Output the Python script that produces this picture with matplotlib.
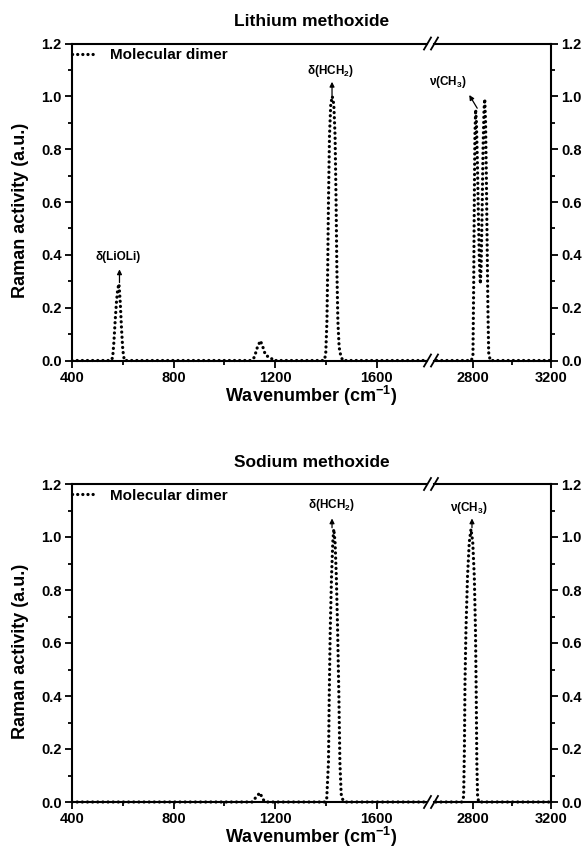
import matplotlib
matplotlib.use("Agg")
import matplotlib.pyplot as plt
from matplotlib.patches import Rectangle
from matplotlib.lines import Line2D
from matplotlib.ticker import FixedLocator, FormatStrFormatter

# ---------------- data ----------------
li_wavenumber = [400, 552, 560, 565, 570, 575, 580, 585, 590, 595, 600, 606,
                 1105, 1118, 1130, 1142, 1152, 1162, 1172, 1182, 1192,
                 1392, 1399, 1404, 1407, 1410, 1414, 1419, 1425, 1431, 1436,
                 1440, 1443, 1447, 1452, 1458, 1466,
                 2790, 2798, 2802, 2805, 2808, 2812, 2816, 2821, 2826, 2831,
                 2836, 2840, 2845, 2850, 2855, 2859, 2863, 2867, 2871, 2875,
                 2879, 2887, 3200]
li_activity = [0, 0, 0.01, 0.07, 0.15, 0.22, 0.27, 0.29, 0.22, 0.12, 0.04, 0,
               0, 0.012, 0.05, 0.075, 0.05, 0.02, 0.015, 0.012, 0,
               0, 0.02, 0.15, 0.35, 0.6, 0.85, 0.97, 1.0, 0.97, 0.85,
               0.6, 0.35, 0.15, 0.05, 0.02, 0,
               0, 0.02, 0.3, 0.6, 0.85, 0.95, 0.9, 0.75, 0.55, 0.38,
               0.29, 0.35, 0.55, 0.8, 0.95, 0.99, 0.9, 0.7, 0.45, 0.2,
               0.03, 0, 0]

na_wavenumber = [400, 1110, 1122, 1140, 1152, 1162,
                 1395, 1403, 1410, 1413, 1417, 1422, 1427, 1431, 1436, 1441,
                 1446, 1451, 1455, 1460, 1466, 1475,
                 2740, 2750, 2754, 2757, 2762, 2770, 2779, 2788, 2797, 2805,
                 2811, 2815, 2818, 2822, 2828, 3200]
na_activity = [0, 0, 0.015, 0.035, 0.01, 0,
               0, 0.01, 0.15, 0.4, 0.65, 0.85, 0.98, 1.03, 0.98, 0.85,
               0.65, 0.4, 0.15, 0.03, 0.01, 0,
               0, 0.02, 0.2, 0.45, 0.65, 0.85, 0.98, 1.03, 0.98, 0.85,
               0.65, 0.4, 0.15, 0.02, 0, 0]

titles = ["Lithium methoxide", "Sodium methoxide"]
legend_label = "Molecular dimer"
x_label = "Wavenumber (cm$^{-1}$)"
y_label = "Raman activity (a.u.)"

left_range = (400, 1800)
right_range = (2600, 3200)
left_major = [400, 800, 1200, 1600]
left_minor = [600, 1000, 1400]
right_major = [2800, 3200]
right_minor = [3000]
y_major = [0.0, 0.2, 0.4, 0.6, 0.8, 1.0, 1.2]
y_minor = [0.1, 0.3, 0.5, 0.7, 0.9, 1.1]

# annotations: (text, text_x, text_y, tail_x, tail_y, head_x, head_y, segment)
li_notes = [
    ("δ(LiOLi)", 580, 0.39, 587, 0.295, 587, 0.345, "L"),
    ("δ(HCH$_2$)", 1419, 1.095, 1424, 1.0, 1424, 1.055, "L"),
    ("ν(CH$_3$)", 2667, 1.055, 2820, 0.955, 2779, 1.005, "R"),
]
na_notes = [
    ("δ(HCH$_2$)", 1422, 1.12, 1424, 1.035, 1424, 1.07, "L"),
    ("ν(CH$_3$)", 2779, 1.11, 2793, 1.035, 2793, 1.07, "R"),
]

# ---------------- style ----------------
plt.rcParams["font.family"] = ["Liberation Sans", "DejaVu Sans"]
plt.rcParams["font.weight"] = "bold"
plt.rcParams["mathtext.fontset"] = "custom"
plt.rcParams["mathtext.rm"] = "Liberation Sans:bold"
plt.rcParams["mathtext.it"] = "Liberation Sans:bold:italic"
plt.rcParams["mathtext.bf"] = "Liberation Sans:bold"
plt.rcParams["mathtext.default"] = "rm"
plt.rcParams["lines.scale_dashes"] = False

W, H = 586, 861
fig = plt.figure(figsize=(W / 100, H / 100), dpi=100)
fig.patch.set_facecolor("white")


def fx(px):
    return px / W


def fy(py):
    return 1 - py / H


DOT = (0, (0.1, 3.6))
X_L0, X_L1, X_R0, X_R1 = 72, 427.5, 434.5, 551


def draw_panel(top, bottom, xs, ys, title, notes):
    h = (bottom - top) / H
    axL = fig.add_axes([fx(X_L0), fy(bottom), (X_L1 - X_L0) / W, h])
    axR = fig.add_axes([fx(X_R0), fy(bottom), (X_R1 - X_R0) / W, h])
    for ax, rng in ((axL, left_range), (axR, right_range)):
        ln, = ax.plot(xs, ys, color="black", lw=2.3, linestyle=DOT,
                      dash_capstyle="round", zorder=5,
                      label=legend_label)
        ln.set_clip_path(Rectangle((0, -0.03), 1, 1.06,
                                   transform=ax.transAxes))
        ax.set_xlim(*rng)
        ax.set_ylim(0, 1.2)
        ax.yaxis.set_major_locator(FixedLocator(y_major))
        ax.yaxis.set_minor_locator(FixedLocator(y_minor))
        ax.yaxis.set_major_formatter(FormatStrFormatter("%.1f"))
        for s in ax.spines.values():
            s.set_linewidth(1.5)
        ax.tick_params(which="major", direction="out", length=5, width=1.3,
                       labelsize=10.5, pad=2.5)
        ax.tick_params(which="minor", direction="out", length=3, width=1.3)
        ax.tick_params(top=False, which="both")
    axL.xaxis.set_major_locator(FixedLocator(left_major))
    axL.xaxis.set_minor_locator(FixedLocator(left_minor))
    axR.xaxis.set_major_locator(FixedLocator(right_major))
    axR.xaxis.set_minor_locator(FixedLocator(right_minor))
    axL.spines["right"].set_visible(False)
    axR.spines["left"].set_visible(False)
    axL.tick_params(which="both", right=False)
    axR.tick_params(which="both", left=False, labelleft=False,
                    right=True, labelright=True)

    # break marks
    for xp in (X_L1, X_R0):
        for yp in (top, bottom):
            fig.add_artist(Line2D([fx(xp - 3.5), fx(xp + 3.5)],
                                  [fy(yp + 6), fy(yp - 6)],
                                  color="black", lw=1.3,
                                  transform=fig.transFigure))

    axL.legend(loc="upper left", bbox_to_anchor=(0.0, 0.985), frameon=False,
               borderaxespad=0, borderpad=0, handlelength=1.55,
               handletextpad=0.95, fontsize=11)

    for txt, tx, ty, x0, y0, x1, y1, seg in notes:
        ax = axL if seg == "L" else axR
        ax.text(tx, ty, txt, ha="center", va="center", fontsize=8.5,
                fontweight="bold", clip_on=False)
        ax.annotate("", xy=(x1, y1), xytext=(x0, y0),
                    arrowprops=dict(arrowstyle="-|>", lw=0.9, color="black",
                                    mutation_scale=7, shrinkA=0, shrinkB=0),
                    annotation_clip=False)

    xc = fx((X_L0 + X_R1) / 2)
    fig.text(xc, fy(top - 21.5), title, ha="center", va="center",
             fontsize=12.5, fontweight="bold")
    fig.text(xc, fy(bottom + 35), x_label, ha="center", va="center",
             fontsize=13, fontweight="bold")
    fig.text(fx(21), fy((top + bottom) / 2 + 8), y_label, ha="center",
             va="center", rotation=90, fontsize=13, fontweight="bold")


draw_panel(43.5, 360.5, li_wavenumber, li_activity, titles[0], li_notes)
draw_panel(484, 802, na_wavenumber, na_activity, titles[1], na_notes)

fig.savefig("out.png", dpi=100, facecolor="white")
